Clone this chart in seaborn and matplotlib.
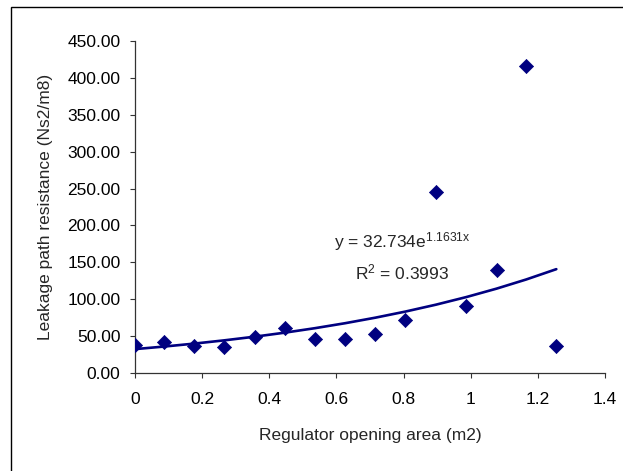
import matplotlib
matplotlib.use("Agg")
import matplotlib.pyplot as plt
from matplotlib.patches import Rectangle
import seaborn as sns
import pandas as pd
import numpy as np

# regulator opening area (m2) and leakage path resistance (Ns2/m8)
opening_area = [0.0, 0.087, 0.176, 0.266, 0.357, 0.446, 0.536, 0.626, 0.716,
                0.805, 0.896, 0.987, 1.077, 1.165, 1.255]
resistance = [38.5, 43.0, 37.6, 35.4, 49.0, 61.0, 46.6, 46.6, 53.4,
              72.3, 245.0, 91.7, 140.0, 416.0, 37.6]

# exponential trendline as printed on the chart
fit_a = 32.734
fit_b = 1.1631
fit_r2 = 0.3993

x_ticks = [0, 0.2, 0.4, 0.6, 0.8, 1.0, 1.2, 1.4]
y_ticks = [0, 50, 100, 150, 200, 250, 300, 350, 400, 450]

df = pd.DataFrame({"area": opening_area, "res": resistance})
df["trend"] = fit_a * np.exp(fit_b * df["area"])

sns.set_style("ticks")
plt.rcParams['font.family'] = ['Liberation Sans', 'DejaVu Sans']
plt.rcParams['mathtext.default'] = 'regular'

navy = "#000080"
fig = plt.figure(figsize=(6.23, 4.71), dpi=100)
ax = fig.add_axes([0.2167, 0.2074, 0.9711 - 0.2167, 0.9136 - 0.2074])

sns.lineplot(data=df, x="area", y="trend", ax=ax, color=navy, linewidth=1.9)
sns.scatterplot(data=df, x="area", y="res", ax=ax, marker="D", s=52,
                color=navy, edgecolor=navy, linewidth=0.5, zorder=3)

ax.set_xlim(0, 1.4)
ax.set_ylim(0, 450)
ax.set_xticks(x_ticks)
ax.set_xticklabels([f"{v:g}" for v in x_ticks])
ax.set_yticks(y_ticks)
ax.set_yticklabels([f"{v:.2f}" for v in y_ticks])
ax.tick_params(axis="both", labelsize=12.5, length=3.5, width=0.8,
               color="#333333", labelcolor="black", direction="out")
ax.tick_params(axis="x", pad=10)
ax.tick_params(axis="y", pad=7)
sns.despine(ax=ax)
for s in ("left", "bottom"):
    ax.spines[s].set_color("#333333")
    ax.spines[s].set_linewidth(0.9)

ax.set_xlabel("Regulator opening area (m2)", fontsize=12.5, labelpad=15)
ax.set_ylabel("Leakage path resistance (Ns2/m8)", fontsize=12.5, labelpad=10)

ax.text(0.795, 178, f"y = {fit_a}e$^{{{fit_b}x}}$", fontsize=12.5,
        ha="center", va="center")
ax.text(0.795, 137, f"R$^2$ = {fit_r2}", fontsize=12.5,
        ha="center", va="center")

# chart area border (only top and left visible in the crop)
fig.patches.append(Rectangle((11 / 623, -0.05), 1.2, 1 - 7 / 471 + 0.05,
                             transform=fig.transFigure, fill=False,
                             edgecolor="black", linewidth=1.0))

fig.savefig("out.png", dpi=100)
